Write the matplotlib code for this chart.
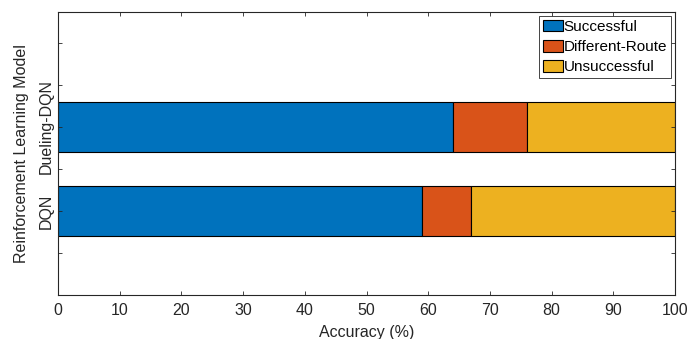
import matplotlib
matplotlib.use('Agg')
import matplotlib.pyplot as plt
import numpy as np

models = ['DQN', 'Dueling-DQN']
successful = [59, 64]
different_route = [8, 12]
unsuccessful = [33, 24]
series_names = ['Successful', 'Different-Route', 'Unsuccessful']
colors = ['#0072BD', '#D95319', '#EDB120']

plt.rcParams['font.family'] = ['Liberation Sans', 'DejaVu Sans']
plt.rcParams['font.size'] = 11.5

fig = plt.figure(figsize=(6.87, 3.39), dpi=100)
ax = fig.add_axes([58 / 687, 1 - 295 / 339, (675 - 58) / 687, (295 - 12) / 339])

# stacked horizontal bars
ypos = np.arange(1, len(models) + 1)
left = np.zeros(len(models))
for name, vals, c in zip(series_names, [successful, different_route, unsuccessful], colors):
    ax.barh(ypos, vals, height=0.6, left=left, color=c, edgecolor='black',
            linewidth=0.8, label=name)
    left += np.array(vals)

ax.set_xlim(0, 100)
ax.set_ylim(0, 3.37)
ax.set_xticks(np.arange(0, 101, 10))
yt = np.arange(0, 3.01, 0.5)
ax.set_yticks(yt)
ax.set_yticklabels([models[int(t) - 1] if t in (1, 2) else '' for t in yt],
                   rotation=90, va='center')
ax.tick_params(direction='in', length=3, top=True, right=True, colors='#262626',
               labelcolor='#262626', width=0.6)
ax.tick_params(axis='x', pad=6)
ax.tick_params(axis='y', pad=3)
for s in ax.spines.values():
    s.set_color('#262626')
    s.set_linewidth(0.8)

ax.set_xlabel('Accuracy (%)', color='#262626', labelpad=5)
ax.set_ylabel('Reinforcement Learning Model', color='#262626', labelpad=7, fontsize=11.5)

leg = ax.legend(loc='upper right', bbox_to_anchor=(0.9935, 0.986), fancybox=False,
                edgecolor='#262626', framealpha=1, fontsize=11, handlelength=1.3,
                handleheight=0.8, handletextpad=0.05, borderpad=0.25,
                labelspacing=0.4, borderaxespad=0)
leg.get_frame().set_linewidth(0.6)

fig.savefig('out.png', dpi=100)
